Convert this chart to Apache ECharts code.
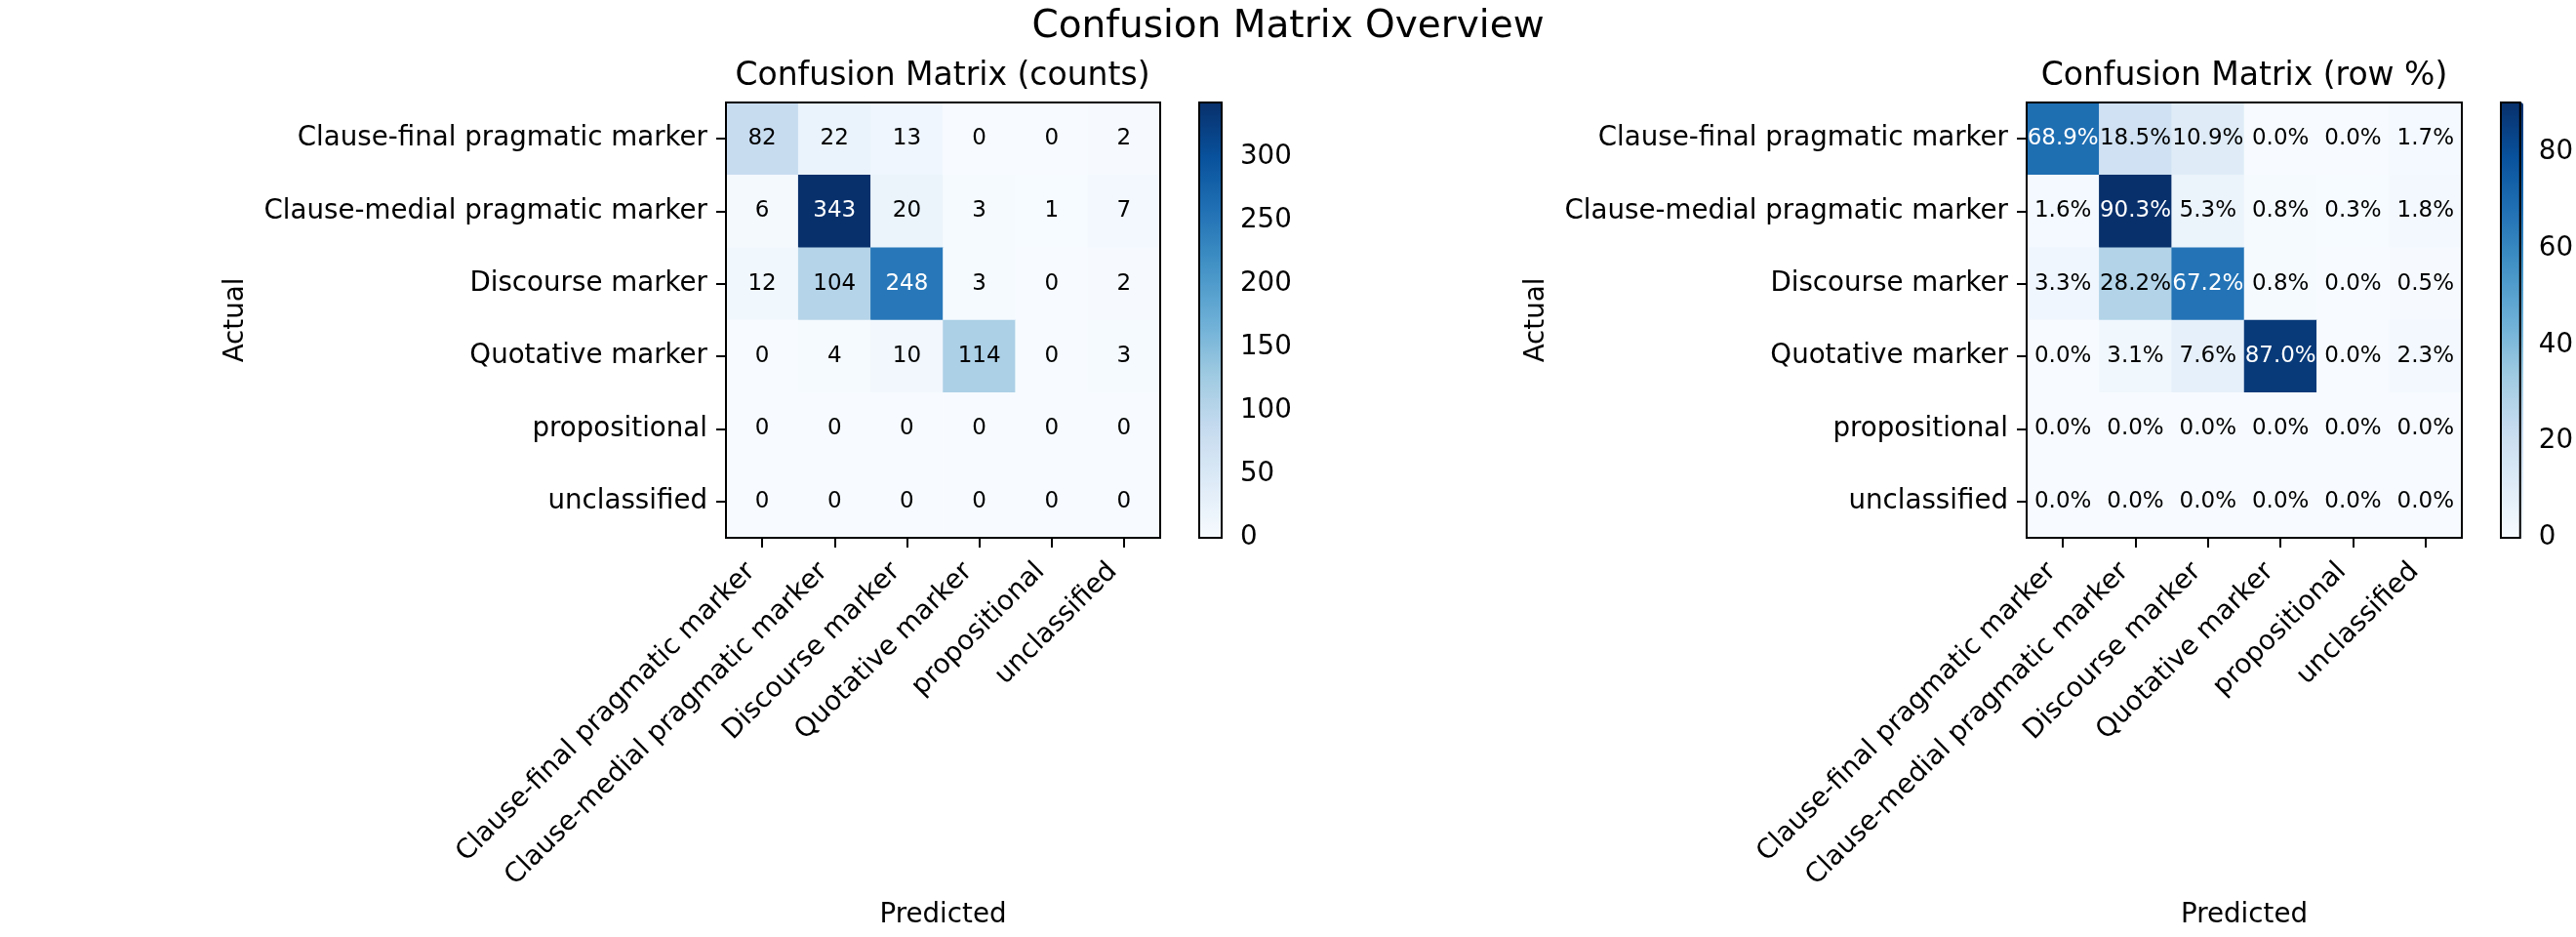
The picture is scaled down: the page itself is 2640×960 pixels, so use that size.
<!DOCTYPE html>
<html>
<head>
<meta charset="utf-8">
<title>Confusion Matrix Overview</title>
<script src="https://cdn.jsdelivr.net/npm/echarts@6/dist/echarts.min.js"></script>
<style>
  html, body { margin: 0; padding: 0; background: #fff; }
  #chart { width: 2640px; height: 960px; }
</style>
</head>
<body>
<div id="chart"></div>
<script>
// 类别（行=Actual，列=Predicted）
var labels = [
  "Clause-final pragmatic marker",
  "Clause-medial pragmatic marker",
  "Discourse marker",
  "Quotative marker",
  "propositional",
  "unclassified"
];

// 计数矩阵
var counts = [
  [82, 22, 13, 0, 0, 2],
  [6, 343, 20, 3, 1, 7],
  [12, 104, 248, 3, 0, 2],
  [0, 4, 10, 114, 0, 3],
  [0, 0, 0, 0, 0, 0],
  [0, 0, 0, 0, 0, 0]
];

// 行百分比矩阵
var rowPct = [
  [68.9, 18.5, 10.9, 0.0, 0.0, 1.7],
  [1.6, 90.3, 5.3, 0.8, 0.3, 1.8],
  [3.3, 28.2, 67.2, 0.8, 0.0, 0.5],
  [0.0, 3.1, 7.6, 87.0, 0.0, 2.3],
  [0.0, 0.0, 0.0, 0.0, 0.0, 0.0],
  [0.0, 0.0, 0.0, 0.0, 0.0, 0.0]
];

var countMax = 343;
var pctMax = 90.3;
var countTicks = 50;
var pctTicks = 20;

// matplotlib Blues
var blues = ["#f7fbff", "#deebf7", "#c6dbef", "#9ecae1", "#6baed6",
             "#4292c6", "#2171b5", "#08519c", "#08306b"];

(function () {
  var myChart = echarts.init(document.getElementById("chart"));
  var font = "DejaVu Sans";
  var lineW = 2;

  function cells(matrix, max) {
    var out = [];
    matrix.forEach(function (row, r) {
      row.forEach(function (v, c) {
        out.push({
          value: [c, r, v],
          label: { color: v > max / 2 ? "#fff" : "#000" }
        });
      });
    });
    return out;
  }

  function mainX(gi) {
    return {
      type: "category",
      gridIndex: gi,
      data: labels,
      position: "bottom",
      name: "Predicted",
      nameLocation: "middle",
      nameGap: 373,
      nameTextStyle: { fontFamily: font, fontSize: 27.7, color: "#000" },
      axisLine: { show: true, lineStyle: { color: "#000", width: lineW } },
      axisTick: { show: true, alignWithLabel: true, length: 10, lineStyle: { color: "#000", width: lineW } },
      axisLabel: {
        interval: 0, rotate: 45, margin: 19, padding: [0, 16, 0, 0],
        fontFamily: font, fontSize: 27.7, color: "#000"
      },
      splitLine: { show: false }
    };
  }

  function mainY(gi) {
    return {
      type: "category",
      gridIndex: gi,
      data: labels,
      inverse: true,
      name: "Actual",
      nameLocation: "middle",
      nameRotate: 90,
      nameGap: 488,
      nameTextStyle: { fontFamily: font, fontSize: 27.7, color: "#000" },
      axisLine: { show: true, lineStyle: { color: "#000", width: lineW } },
      axisTick: { show: true, alignWithLabel: true, length: 10, lineStyle: { color: "#000", width: lineW } },
      axisLabel: { interval: 0, margin: 19, padding: [5, 0, 0, 0],
        fontFamily: font, fontSize: 27.7, color: "#000" },
      splitLine: { show: false }
    };
  }

  function barY(gi, max, step) {
    return {
      type: "value",
      gridIndex: gi,
      min: 0,
      max: max,
      interval: step,
      position: "right",
      axisLine: { show: true, lineStyle: { color: "#000", width: lineW } },
      axisTick: { show: true, length: 10, lineStyle: { color: "#000", width: lineW } },
      axisLabel: { margin: 19, padding: [5, 0, 0, 0], fontFamily: font, fontSize: 27.7, color: "#000",
        showMaxLabel: false },
      splitLine: { show: false }
    };
  }

  var frame = { show: true, borderColor: "#000", borderWidth: lineW, backgroundColor: "transparent", z: 10 };

  option = {
    backgroundColor: "#fff",
    animation: false,
    title: [
      { text: "Confusion Matrix Overview", left: 1320, top: 8, textAlign: "center", padding: 0,
        textStyle: { fontFamily: font, fontSize: 39, fontWeight: "normal", color: "#000" } },
      { text: "Confusion Matrix (counts)", left: 966, top: 62, textAlign: "center", padding: 0,
        textStyle: { fontFamily: font, fontSize: 33, fontWeight: "normal", color: "#000" } },
      { text: "Confusion Matrix (row %)", left: 2300, top: 62, textAlign: "center", padding: 0,
        textStyle: { fontFamily: font, fontSize: 33, fontWeight: "normal", color: "#000" } }
    ],
    grid: [
      Object.assign({ left: 744, top: 105, width: 445, height: 446 }, frame),
      Object.assign({ left: 2077, top: 105, width: 446, height: 446 }, frame),
      Object.assign({ left: 1229, top: 105, width: 23, height: 446 }, frame),
      Object.assign({ left: 2563, top: 105, width: 23, height: 446 }, frame)
    ],
    xAxis: [
      mainX(0),
      mainX(1),
      { type: "value", gridIndex: 2, show: false },
      { type: "value", gridIndex: 3, show: false }
    ],
    yAxis: [
      mainY(0),
      mainY(1),
      barY(2, countMax, countTicks),
      barY(3, pctMax, pctTicks)
    ],
    visualMap: [
      {
        type: "continuous", seriesIndex: 0, min: 0, max: countMax,
        calculable: false, realtime: false, padding: 0,
        left: 1229, top: 105, itemWidth: 23, itemHeight: 446,
        inRange: { color: blues }, textStyle: { color: "transparent" }
      },
      {
        type: "continuous", seriesIndex: 1, min: 0, max: pctMax,
        calculable: false, realtime: false, padding: 0,
        left: 2563, top: 105, itemWidth: 23, itemHeight: 446,
        inRange: { color: blues }, textStyle: { color: "transparent" }
      }
    ],
    series: [
      {
        name: "counts",
        type: "heatmap",
        xAxisIndex: 0,
        yAxisIndex: 0,
        data: cells(counts, countMax),
        label: {
          show: true, fontFamily: font, fontSize: 23, padding: [5, 0, 0, 0],
          formatter: function (p) { return String(p.value[2]); }
        }
      },
      {
        name: "row %",
        type: "heatmap",
        xAxisIndex: 1,
        yAxisIndex: 1,
        data: cells(rowPct, pctMax),
        label: {
          show: true, fontFamily: font, fontSize: 23, padding: [5, 0, 0, 0],
          formatter: function (p) { return p.value[2].toFixed(1) + "%"; }
        }
      }
    ]
  };

  myChart.setOption(option);
  window.addEventListener("resize", function () {
    myChart.resize();
  });
})();
</script>
</body>
</html>
